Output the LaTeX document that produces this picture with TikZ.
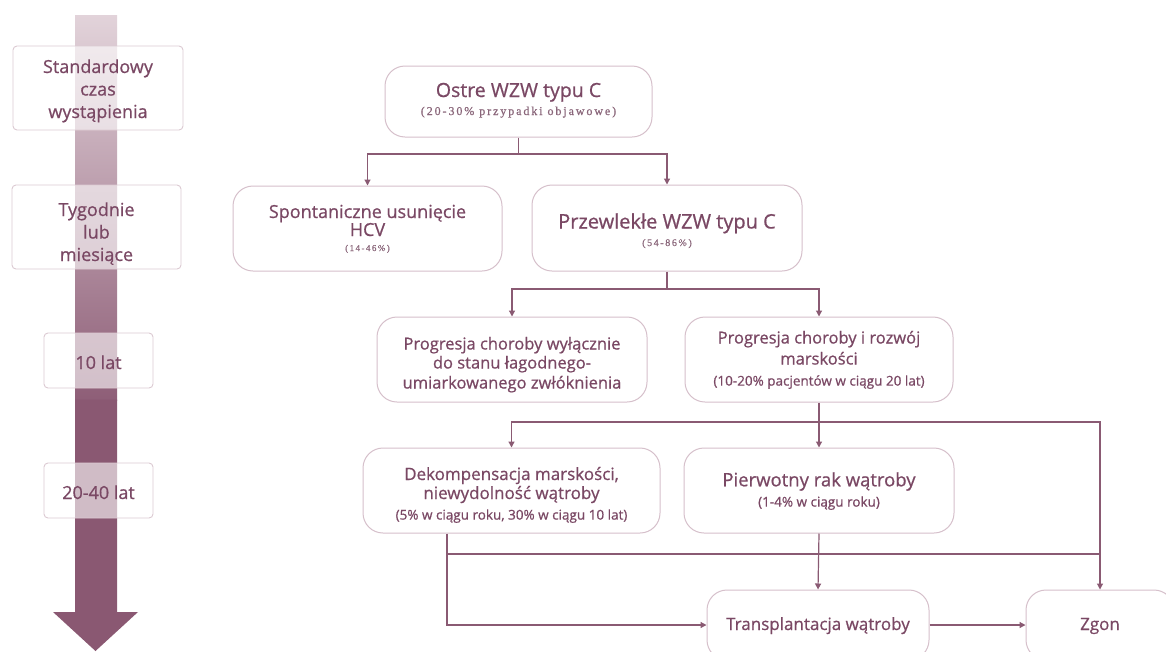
\documentclass[tikz,border=0pt]{standalone}
\usepackage{fontspec}
\setmainfont{Open Sans}[RawFeature={embolden=0.7}]
\newfontfamily\subserif[LetterSpace=16,RawFeature={embolden=0.6}]{Liberation Serif}
\usetikzlibrary{arrows.meta}
\definecolor{txt}{HTML}{7A4864}
\definecolor{subc}{HTML}{8A667A}
\definecolor{linec}{HTML}{8A5A73}
\definecolor{boxc}{HTML}{D6C0CB}
\definecolor{lboxc}{HTML}{DCCAD2}
\definecolor{artop}{HTML}{E2D3DA}
\definecolor{armid}{HTML}{8E5E77}
\definecolor{arbot}{HTML}{8A5872}
\newcommand{\fs}[1]{\fontsize{#1}{#1}\selectfont}
\tikzset{
  mbox/.style={draw=boxc, line width=1pt, rounded corners=20pt, fill=white, inner sep=0pt},
  lbox/.style={draw=lboxc, line width=0.9pt, rounded corners=4pt, fill=white, fill opacity=0.6, inner sep=0pt},
  tl/.style={anchor=base, inner sep=0pt, text=txt},
  st/.style={anchor=base, inner sep=0pt, text=subc, font=\subserif\fs{#1}},
  conn/.style={draw=linec, line width=1.2pt},
  arr/.style={conn, -{Triangle[width=6pt,length=6pt]}},
}
\begin{document}
\begin{tikzpicture}[x=1pt,y=-1pt]
\useasboundingbox (0,0) rectangle (1166,651);
\clip (0,0) rectangle (1166,651);
\fill[white] (0,0) rectangle (1166,651);
% time arrow
\shade[top color=artop, bottom color=armid] (75,15) rectangle (117,400);
\fill[arbot] (75,399.5) -- (117,399.5) -- (117,612) -- (138,612) -- (95.5,651) -- (53,612) -- (75,612) -- cycle;
% left boxes
\node[lbox, minimum width=170pt, minimum height=84pt] (t1) at (98,88) {};
\node[lbox, minimum width=169pt, minimum height=84pt] (t2) at (96.5,227) {};
\node[lbox, minimum width=109pt, minimum height=55pt] (t3) at (98.5,360.5) {};
\node[lbox, minimum width=109pt, minimum height=55pt] (t4) at (98.5,490.5) {};
\begin{scope}[every node/.append style={tl, font=\fs{18}}]
\node (t1a) at (98,73) {Standardowy};
\node (t1b) at (98,95.5) {czas};
\node (t1c) at (98,118) {wystąpienia};
\node (t2a) at (96.5,216) {Tygodnie};
\node (t2b) at (96.5,238.5) {lub};
\node (t2c) at (96.5,261) {miesiące};
\node (t3a) at (98.5,369) {10 lat};
\node (t4a) at (98.5,499) {20-40 lat};
\end{scope}
% main boxes
\node[mbox, minimum width=267pt, minimum height=71pt] (ostre) at (518.5,101.5) {};
\node[mbox, minimum width=269pt, minimum height=85pt] (spont) at (367.5,228.5) {};
\node[mbox, minimum width=270pt, minimum height=86pt] (przew) at (667,228) {};
\node[mbox, minimum width=270pt, minimum height=85pt] (prog1) at (512,359.5) {};
\node[mbox, minimum width=268pt, minimum height=85pt] (prog2) at (819,359.5) {};
\node[mbox, minimum width=297pt, minimum height=85pt] (dek) at (511.5,490.5) {};
\node[mbox, minimum width=270pt, minimum height=85pt] (pierw) at (819,490.5) {};
\node[mbox, minimum width=222pt, minimum height=70pt] (trans) at (818,625) {};
\node[mbox, minimum width=148pt, minimum height=70pt] (zgon) at (1100,625) {};
% texts
\node[tl, font=\fs{19.5}] (ostreA) at (518.5,97) {Ostre WZW typu C};
\node[st=12] (ostreB) at (518.5,115) {(20-30\% przypadki objawowe)};
\node[tl, font=\fs{18}] (spontA) at (367.5,218) {Spontaniczne usunięcie};
\node[tl, font=\fs{18}] (spontB) at (367.5,236) {HCV};
\node[st=9] (spontC) at (367.5,251) {(14-46\%)};
\node[tl, font=\fs{20}] (przewA) at (667,228.5) {Przewlekłe WZW typu C};
\node[st=10] (przewB) at (667,246) {(54-86\%)};
\node[tl, font=\fs{16.5}] (prog1A) at (512,349.5) {Progresja choroby wyłącznie};
\node[tl, font=\fs{16.5}] (prog1B) at (512,368.5) {do stanu łagodnego-};
\node[tl, font=\fs{16.5}] (prog1C) at (512,388.5) {umiarkowanego zwłóknienia};
\node[tl, font=\fs{16.5}] (prog2A) at (819,343.5) {Progresja choroby i rozwój};
\node[tl, font=\fs{16.5}] (prog2B) at (819,364.5) {marskości};
\node[tl, font=\fs{13.5}] (prog2C) at (819,385.6) {(10-20\% pacjentów w ciągu 20 lat)};
\node[tl, font=\fs{17}] (dekA) at (511.5,480) {Dekompensacja marskości,};
\node[tl, font=\fs{17}] (dekB) at (511.5,499) {niewydolność wątroby};
\node[tl, font=\fs{13.5}] (dekC) at (511.5,519.6) {(5\% w ciągu roku, 30\% w ciągu 10 lat)};
\node[tl, font=\fs{18.5}] (pierwA) at (819,486.3) {Pierwotny rak wątroby};
\node[tl, font=\fs{13.5}] (pierwB) at (819,506.6) {(1-4\% w ciągu roku)};
\node[tl, font=\fs{17}] (transA) at (818,630) {Transplantacja wątroby};
\node[tl, font=\fs{17}] (zgonA) at (1100,630) {Zgon};
% connectors
\coordinate (b1) at (518.5,154);
\coordinate (b2) at (667,289);
\coordinate (b3) at (819,422);
\coordinate (zj) at (1100,422);
\coordinate (d1) at ([xshift=-64.5pt]dek.south);
\coordinate (h2) at (1100,554);
\draw[conn] (ostre.south) -- (b1);
\draw[arr] (b1) -| (spont.north);
\draw[arr] (b1) -| (przew.north);
\draw[conn] (przew.south) -- (b2);
\draw[arr] (b2) -| (prog1.north);
\draw[arr] (b2) -| (prog2.north);
\draw[conn] (prog2.south) -- (b3);
\draw[arr] (b3) -| (dek.north);
\draw[arr] (b3) -- (pierw.north);
\draw[arr] (b3) -- (zj) -- (zgon.north);
\draw[arr] (d1) |- (trans.west);
\draw[conn] (d1 |- h2) -- (h2);
\draw[arr] (pierw.south) -- (trans.north);
\draw[arr] (trans.east) -- (zgon.west);
\end{tikzpicture}
\end{document}
